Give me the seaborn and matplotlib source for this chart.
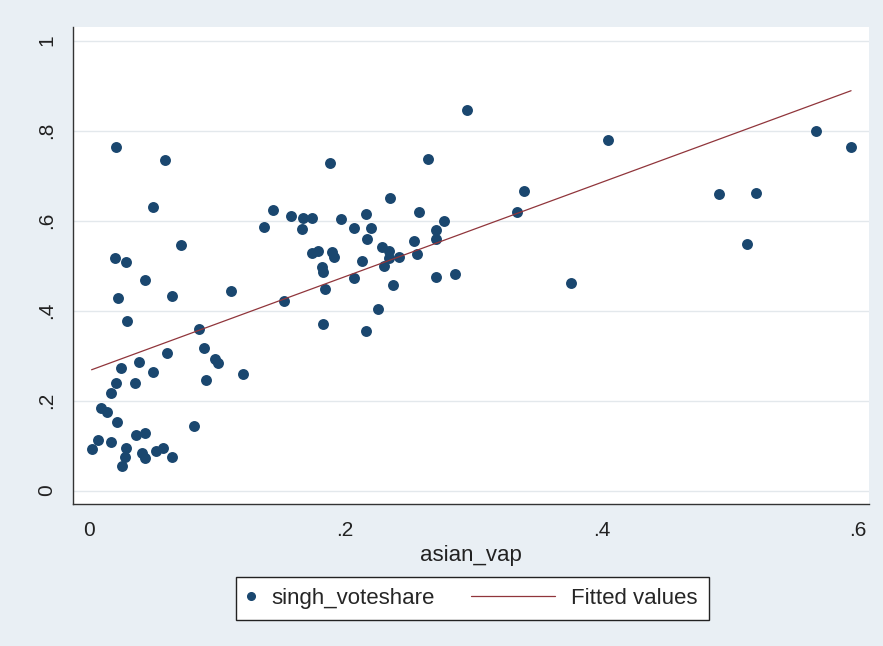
import numpy as np
import pandas as pd
import matplotlib
matplotlib.use('Agg')
import matplotlib.pyplot as plt
from matplotlib.lines import Line2D
from matplotlib.legend_handler import HandlerLine2D
import seaborn as sns

# asian_vap vs singh_voteshare
asian_vap = [
    0.002, 0.007, 0.009, 0.014, 0.017, 0.017, 0.021, 0.022, 0.025, 0.029,
    0.028, 0.026, 0.037, 0.044, 0.041, 0.044, 0.052, 0.058, 0.065, 0.036,
    0.039, 0.050, 0.061, 0.082, 0.086, 0.090, 0.091, 0.098, 0.101, 0.120,
    0.111, 0.065, 0.023, 0.030, 0.044, 0.020, 0.029, 0.072, 0.050, 0.021,
    0.059,
    0.137, 0.144, 0.158, 0.167, 0.174, 0.166, 0.197, 0.216, 0.207, 0.220,
    0.217, 0.174, 0.179, 0.190, 0.191, 0.182, 0.183, 0.213, 0.207, 0.184,
    0.152, 0.183, 0.216, 0.226, 0.237, 0.188, 0.235, 0.258, 0.277, 0.271,
    0.271, 0.254, 0.229, 0.234, 0.234, 0.242, 0.256, 0.230, 0.271, 0.286,
    0.265, 0.295,
    0.340, 0.334, 0.376, 0.405, 0.492, 0.521, 0.514, 0.568, 0.595,
]
singh_voteshare = [
    0.092, 0.112, 0.183, 0.175, 0.107, 0.217, 0.238, 0.153, 0.272, 0.095,
    0.074, 0.055, 0.123, 0.127, 0.083, 0.072, 0.088, 0.094, 0.074, 0.238,
    0.286, 0.263, 0.306, 0.144, 0.358, 0.317, 0.246, 0.292, 0.283, 0.260,
    0.443, 0.432, 0.427, 0.377, 0.468, 0.516, 0.508, 0.546, 0.629, 0.764,
    0.734,
    0.585, 0.623, 0.611, 0.605, 0.605, 0.581, 0.603, 0.614, 0.584, 0.583,
    0.560, 0.527, 0.532, 0.531, 0.520, 0.497, 0.485, 0.511, 0.473, 0.447,
    0.422, 0.371, 0.355, 0.403, 0.457, 0.727, 0.651, 0.620, 0.600, 0.579,
    0.560, 0.554, 0.542, 0.532, 0.517, 0.520, 0.526, 0.500, 0.475, 0.481,
    0.736, 0.846,
    0.665, 0.618, 0.462, 0.779, 0.660, 0.662, 0.548, 0.798, 0.763,
]
x_ticks = [0, 0.2, 0.4, 0.6]
x_tick_labels = ['0', '.2', '.4', '.6']
y_ticks = [0, 0.2, 0.4, 0.6, 0.8, 1]
y_tick_labels = ['0', '.2', '.4', '.6', '.8', '1']

df = pd.DataFrame({'asian_vap': asian_vap, 'singh_voteshare': singh_voteshare})

sns.set_style('white')
plt.rcParams['font.family'] = ['Liberation Sans', 'DejaVu Sans']

outer_bg = '#e9eff4'
navy = '#1a476f'
maroon = '#90353b'


class LongLineHandler(HandlerLine2D):
    '''Legend line that reaches back into the column gap, so the marker key stays narrow.'''
    def __init__(self, extra=2.9, **kw):
        super().__init__(**kw)
        self.extra = extra

    def create_artists(self, legend, orig_handle, xdescent, ydescent,
                       width, height, fontsize, trans):
        y = (height - ydescent) / 2
        line = Line2D([-xdescent - self.extra * fontsize, width - xdescent], [y, y])
        self.update_prop(line, orig_handle, legend)
        line.set_transform(trans)
        return [line]


fig = plt.figure(figsize=(8.83, 6.46), dpi=100, facecolor=outer_bg)
ax = fig.add_axes([73 / 883, 1 - 504 / 646, 796 / 883, 477 / 646])
ax.set_facecolor('white')

# grid lines at the y ticks
for yv in y_ticks:
    ax.axhline(yv, color='#e3e8ec', lw=1.0, zorder=0)

# linear fit over the data range (Stata lfit)
sns.regplot(data=df, x='asian_vap', y='singh_voteshare', ci=None, scatter=False,
            color=maroon, line_kws={'lw': 0.9, 'zorder': 3}, ax=ax)
sns.scatterplot(data=df, x='asian_vap', y='singh_voteshare', color=navy, s=62,
                linewidth=0, zorder=2, legend=False, ax=ax)

ax.set_xlim(-0.0125, 0.609)
ax.set_ylim(-0.030, 1.030)
ax.set_xticks(x_ticks)
ax.set_xticklabels(x_tick_labels)
ax.set_yticks(y_ticks)
ax.set_yticklabels(y_tick_labels, rotation=90, va='center')
ax.tick_params(axis='both', which='major', direction='out', length=7, width=1,
               color='#333333', labelsize=15, labelcolor='#222222', pad=5)
ax.set_xlabel('asian_vap', fontsize=16, color='#222222', labelpad=4)
ax.set_ylabel('')

for side in ['top', 'right']:
    ax.spines[side].set_visible(False)
for side in ['left', 'bottom']:
    ax.spines[side].set_color('#333333')
    ax.spines[side].set_linewidth(1.0)

dot_key = Line2D([], [], ls='none', marker='o', markersize=5.5, color=navy)
fit_key = Line2D([], [], color=maroon, lw=0.9)
leg = fig.legend([dot_key, fit_key], ['singh_voteshare', 'Fitted values'],
                 loc='center', bbox_to_anchor=(472.5 / 883, 1 - 598.5 / 646),
                 ncol=2, frameon=True, fancybox=False, edgecolor='#222222',
                 facecolor='white', fontsize=16, handlelength=0.36,
                 columnspacing=5.05, handletextpad=0.72, borderpad=0.5,
                 handler_map={fit_key: LongLineHandler(extra=3.42)})
leg.get_frame().set_linewidth(1.0)
leg.get_frame().set_alpha(1)

fig.savefig('out.png', dpi=100, facecolor=outer_bg)
